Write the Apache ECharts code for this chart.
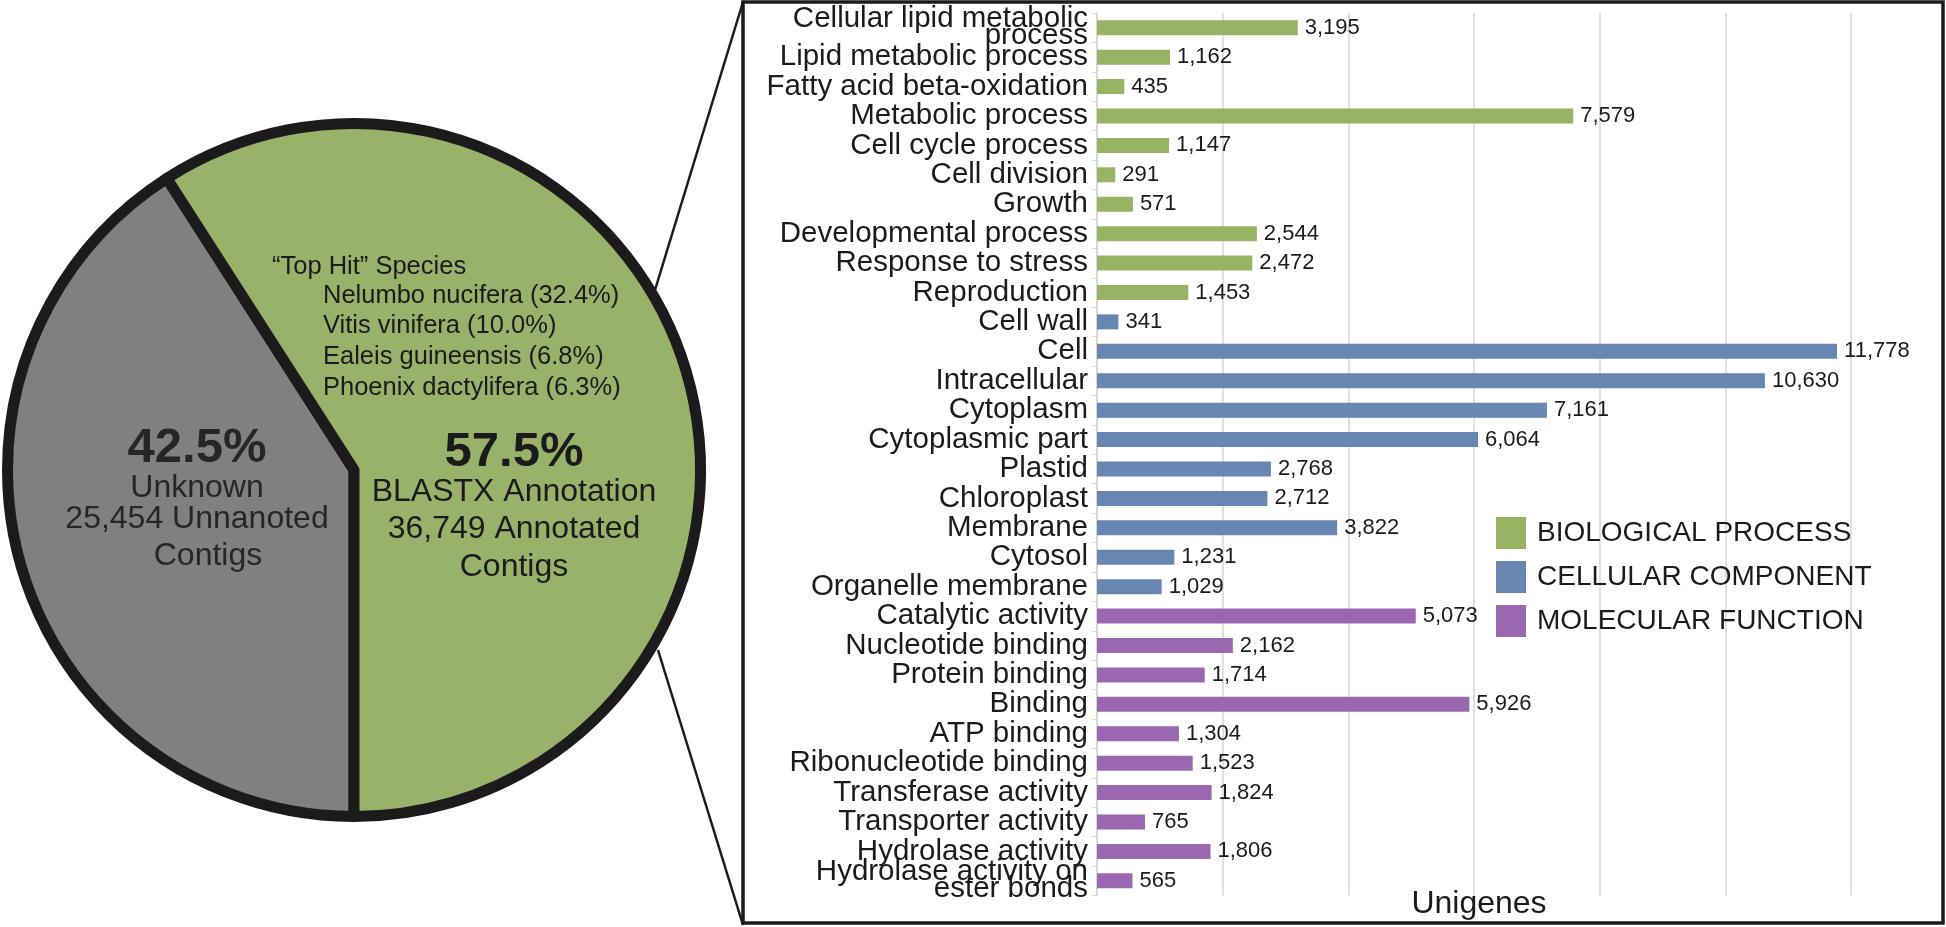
<!DOCTYPE html>
<html><head><meta charset="utf-8">
<script src="https://cdn.jsdelivr.net/npm/echarts@6.0.0/dist/echarts.min.js"></script>
<style>html,body{margin:0;padding:0;background:#fff}#c{width:1946px;height:927px}</style>
</head><body><div id="c"></div>
<script>
// ---- data ----
const bpCategories = ['Cellular lipid metabolic\nprocess','Lipid metabolic process','Fatty acid beta-oxidation','Metabolic process','Cell cycle process','Cell division','Growth','Developmental process','Response to stress','Reproduction'];
const bpValues = [3195,1162,435,7579,1147,291,571,2544,2472,1453];
const ccCategories = ['Cell wall','Cell','Intracellular','Cytoplasm','Cytoplasmic part','Plastid','Chloroplast','Membrane','Cytosol','Organelle membrane'];
const ccValues = [341,11778,10630,7161,6064,2768,2712,3822,1231,1029];
const mfCategories = ['Catalytic activity','Nucleotide binding','Protein binding','Binding','ATP binding','Ribonucleotide binding','Transferase activity','Transporter activity','Hydrolase activity','Hydrolase activity on\nester bonds'];
const mfValues = [5073,2162,1714,5926,1304,1523,1824,765,1806,565];
const groupNames = ['BIOLOGICAL PROCESS','CELLULAR COMPONENT','MOLECULAR FUNCTION'];
const pieNames = ['Unknown','BLASTX Annotation'];
const pieValues = [25454, 36749];
const axisMin = 0, axisMax = 12000, axisStep = 2000;
const topHitTitle = '\u201CTop Hit\u201D Species';
const topHitSpecies = ['Nelumbo nucifera (32.4%)','Vitis vinifera (10.0%)','Ealeis guineensis (6.8%)','Phoenix dactylifera (6.3%)'];
const unknownLines = ['42.5%','Unknown','25,454 Unnanoted','Contigs'];
const annotLines = ['57.5%','BLASTX Annotation','36,749 Annotated','Contigs'];

// ---- build ----
const FONT = "'Liberation Sans', Arial, Helvetica, sans-serif";
const INK = '#1c1a1b';
const groupColors = ['#96b464','#6787b2','#9a67b0'];
const groupCats = [bpCategories, ccCategories, mfCategories];
const groupVals = [bpValues, ccValues, mfValues];
const categories = [].concat(...groupCats);

const barSeries = groupNames.map((g, gi) => {
  const data = [];
  groupCats.forEach((cats, k) => cats.forEach((c, i) => data.push(k === gi ? groupVals[k][i] : '-')));
  return {
    name: g, type: 'bar', stack: 'all', barWidth: 15, silent: true,
    itemStyle: { color: groupColors[gi] },
    label: { show: true, position: 'right', distance: 7, fontSize: 22, fontFamily: FONT, color: INK,
      formatter: p => Number(p.value).toLocaleString('en-US') },
    data
  };
});

const txt = (x, y, text, size, opts) => Object.assign({
  type: 'text', z: 100, x, y,
  style: Object.assign({ text, fontSize: size, fontFamily: FONT, fill: INK, align: 'center', verticalAlign: 'middle' }, opts || {})
});

const graphic = [
  { type: 'rect', z: 50, shape: { x: 743, y: 2, width: 1200, height: 921 }, style: { fill: 'none', stroke: INK, lineWidth: 3.5 } },
  { type: 'line', z: 50, shape: { x1: 655, y1: 290, x2: 743, y2: 2 }, style: { stroke: INK, lineWidth: 2.5 } },
  { type: 'line', z: 50, shape: { x1: 658, y1: 650, x2: 743, y2: 925 }, style: { stroke: INK, lineWidth: 2.5 } },
  txt(272, 267, topHitTitle, 25.5, { align: 'left' }),
  ...topHitSpecies.map((s, i) => txt(323, [296, 326, 357, 388][i], s, 25.5, { align: 'left' })),
  txt(197, 448, unknownLines[0], 49, { fontWeight: 'bold', fill: '#262626' }),
  txt(197, 488, unknownLines[1], 32, { fill: '#262626' }),
  txt(197, 519, unknownLines[2], 32, { fill: '#262626' }),
  txt(208, 556, unknownLines[3], 32, { fill: '#262626' }),
  txt(514, 452, annotLines[0], 49, { fontWeight: 'bold' }),
  txt(514, 492, annotLines[1], 32),
  txt(514, 529, annotLines[2], 32),
  txt(514, 567, annotLines[3], 32)
];

const chart = echarts.init(document.getElementById('c'), null, { renderer: 'canvas' });
chart.setOption({
  animation: false,
  backgroundColor: '#ffffff',
  textStyle: { fontFamily: FONT },
  grid: { left: 1097, right: 95, top: 13, bottom: 31.5, containLabel: false, outerBoundsMode: 'none' },
  legend: {
    orient: 'vertical', left: 1496, top: 517, padding: 0,
    itemWidth: 30, itemHeight: 32, itemGap: 12, icon: 'rect',
    selectedMode: false, data: groupNames,
    textStyle: { fontSize: 28, fontFamily: FONT, color: INK, padding: [0, 0, 0, 6] }
  },
  xAxis: {
    type: 'value', min: axisMin, max: axisMax, interval: axisStep,
    axisLabel: { show: false }, axisTick: { show: false }, axisLine: { show: false },
    splitLine: { show: true, lineStyle: { color: '#d6d6d6', width: 1.5 } },
    name: 'Unigenes', nameLocation: 'middle', nameGap: -7,
    nameTextStyle: { fontSize: 32, fontFamily: FONT, color: INK, padding: [0, 0, 0, 10] }
  },
  yAxis: {
    type: 'category', inverse: true, data: categories,
    axisLine: { show: true, lineStyle: { color: '#d6d6d6', width: 1.5 } },
    axisTick: { show: true, length: 5, lineStyle: { color: '#d6d6d6' } },
    axisLabel: { interval: 0, margin: 9, fontSize: 29.5, lineHeight: 17, fontFamily: FONT, color: INK, align: 'right' },
    splitLine: { show: false }
  },
  series: [
    ...barSeries,
    {
      type: 'pie', center: [354, 470], radius: [0, 346.5], startAngle: -90, clockwise: true,
      silent: true, label: { show: false }, labelLine: { show: false },
      itemStyle: { borderColor: INK, borderWidth: 11 },
      emphasis: { disabled: true },
      data: pieNames.map((n, i) => ({ name: n, value: pieValues[i], itemStyle: { color: ['#808080', '#98b26a'][i] } }))
    }
  ],
  graphic
});
</script>
</body></html>
